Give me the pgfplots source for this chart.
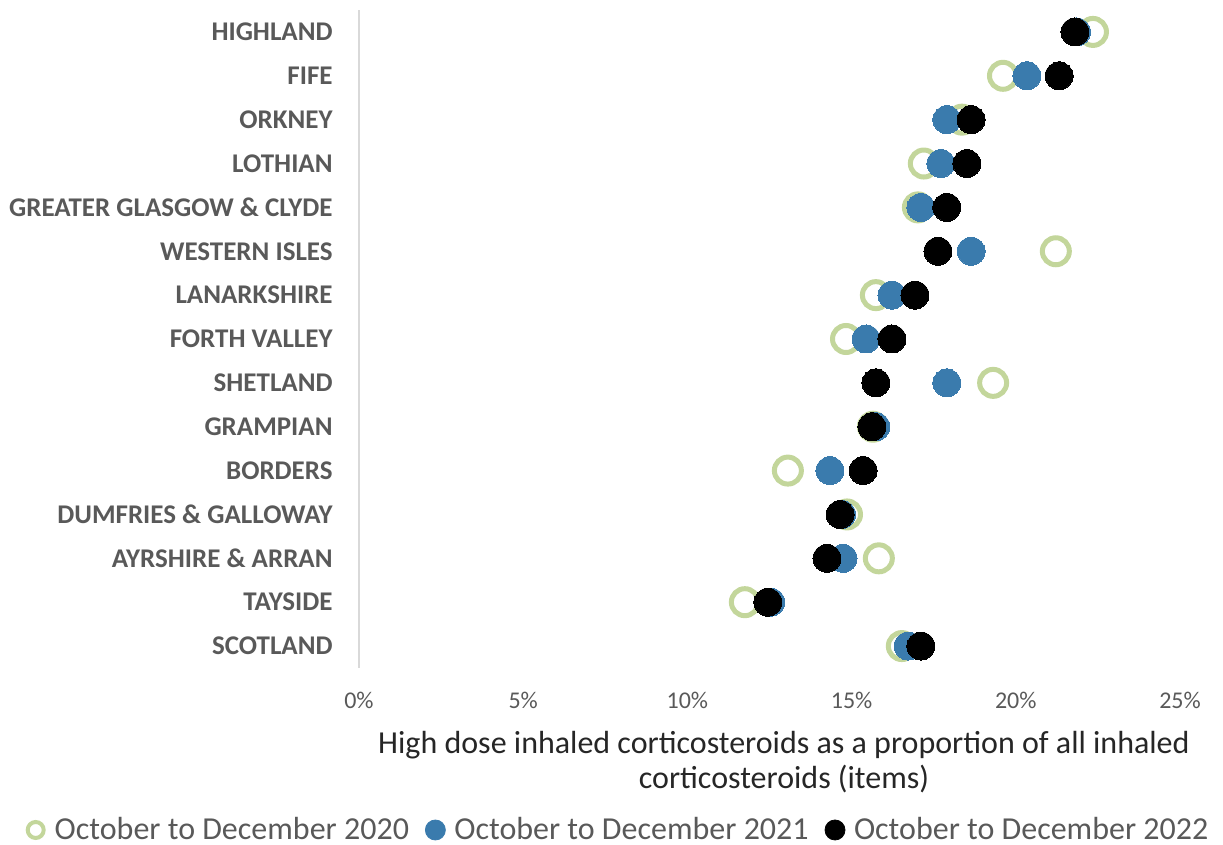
\documentclass[border=0pt]{standalone}
\usepackage{fontspec}
\setmainfont{Carlito}
\usepackage{pgfplots}
\pgfplotsset{compat=1.18}
\definecolor{cgreen}{HTML}{C3D69B}
\definecolor{cblue}{HTML}{3A7BAD}
\definecolor{cgrey}{HTML}{595959}
\definecolor{caxis}{HTML}{D9D9D9}
\begin{document}
\begin{tikzpicture}
\path[use as bounding box] (-179.5pt,-88.5pt) rectangle (432pt,334pt);
\begin{axis}[
  at={(0,0)}, anchor=south west,
  scale only axis, width=410.5pt, height=329pt,
  xmin=0, xmax=25, ymin=-0.5, ymax=14.5,
  axis y line*=left, axis x line*=bottom,
  axis line style={-},
  x axis line style={draw=none},
  y axis line style={caxis, line width=1pt},
  major tick length=0pt,
  xtick={0,5,10,15,20,25},
  xticklabels={0\%,5\%,10\%,15\%,20\%,25\%},
  xticklabel style={font=\fontsize{12}{14}\selectfont, text=cgrey, anchor=center, yshift=-16pt},
  ytick={0,...,14},
  yticklabels={SCOTLAND,TAYSIDE,AYRSHIRE \& ARRAN,DUMFRIES \& GALLOWAY,BORDERS,GRAMPIAN,SHETLAND,FORTH VALLEY,LANARKSHIRE,WESTERN ISLES,GREATER GLASGOW \& CLYDE,LOTHIAN,ORKNEY,FIFE,HIGHLAND},
  yticklabel style={font=\fontsize{13.5}{15}\selectfont\bfseries, text=cgrey, anchor=east, inner sep=0pt, xshift=-13pt},
  /pgf/number format/assume math mode=true,
  clip=false,
  legend columns=3,
  legend cell align=left,
  legend style={at={(0.3167,-0.2462)}, anchor=center, draw=none, fill=none,
    font=\fontsize{16}{18}\selectfont, text=cgrey,
    /tikz/every even column/.append style={column sep=6pt}},
]
\addplot[cgreen, only marks, mark=*, mark size=6.75pt, mark options={draw=cgreen, fill=white, line width=2.5pt},
  legend image code/.code={\path[draw=none] (0pt,0pt) -- (12.5pt,0pt);\draw[cgreen, fill=white, line width=2pt] (5pt,0pt) circle (4pt);}]
coordinates {
(16.53,0) (11.75,1) (15.83,2) (14.86,3) (13.06,4) (15.65,5) (19.31,6) (14.83,7) (15.74,8) (21.22,9) (17.02,10) (17.20,11) (18.36,12) (19.61,13) (22.35,14)
};
\addlegendentry{October to December 2020}
\addplot[cblue, only marks, mark=*, mark size=7pt, mark options={draw=cblue, fill=cblue, line width=0pt},
  legend image code/.code={\path[draw=none] (0pt,0pt) -- (12.5pt,0pt);\fill[cblue] (5pt,0pt) circle (5pt);}]
coordinates {
(16.72,0) (12.54,1) (14.74,2) (14.70,3) (14.34,4) (15.74,5) (17.90,6) (15.44,7) (16.23,8) (18.64,9) (17.11,10) (17.72,11) (17.90,12) (20.34,13) (21.85,14)
};
\addlegendentry{October to December 2021}
\addplot[black, only marks, mark=*, mark size=7pt, mark options={draw=black, fill=black, line width=0pt},
  legend image code/.code={\path[draw=none] (0pt,0pt) -- (12.5pt,0pt);\fill[black] (5pt,0pt) circle (5pt);}]
coordinates {
(17.11,0) (12.45,1) (14.25,2) (14.65,3) (15.35,4) (15.62,5) (15.74,6) (16.23,7) (16.93,8) (17.63,9) (17.90,10) (18.51,11) (18.64,12) (21.32,13) (21.80,14)
};
\addlegendentry{October to December 2022}
\end{axis}
\node[align=center, font=\fontsize{16}{17.5}\selectfont, text=black!85] at (212.5pt,-47pt)
  {High dose inhaled corticosteroids as a proportion of all inhaled\\corticosteroids (items)};
\end{tikzpicture}
\end{document}
